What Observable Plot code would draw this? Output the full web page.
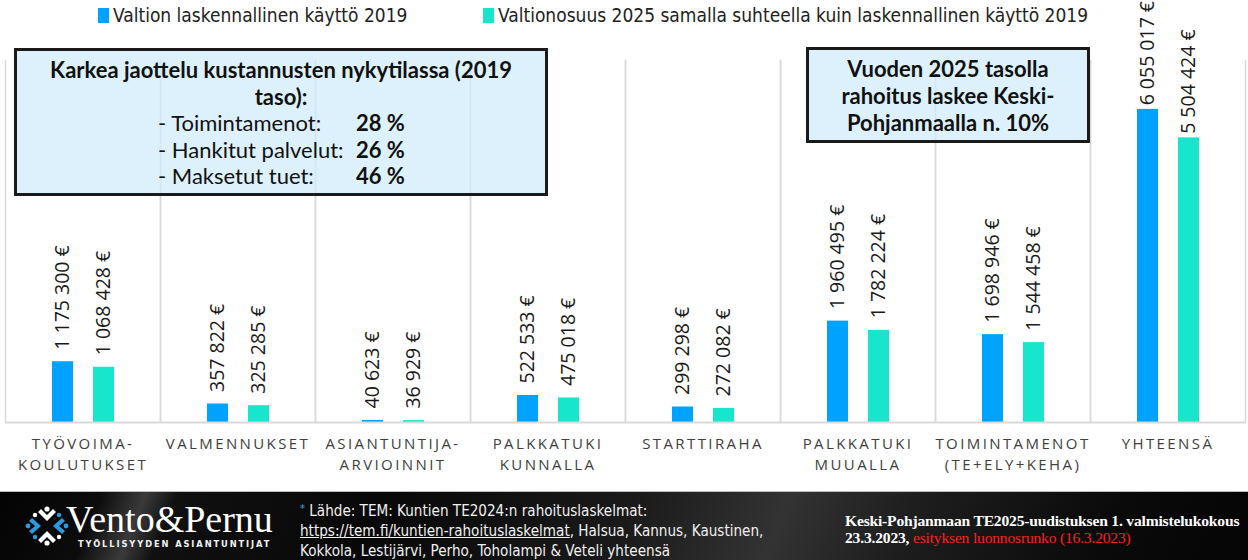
<!DOCTYPE html>
<html>
<head>
<meta charset="utf-8">
<script src="https://cdn.jsdelivr.net/npm/d3@7"></script>
<script src="https://cdn.jsdelivr.net/npm/@observablehq/plot@0.6"></script>
<style>
  html, body { margin: 0; padding: 0; background: #fff; }
  #wrap { position: relative; width: 1248px; height: 560px; overflow: hidden; background: #fff; font-family: "Open Sans", sans-serif; }
  #chart { position: absolute; left: 0; top: 0; }
  .legend { position: absolute; top: 3px; height: 24px; display: flex; align-items: center; font-family: "Liberation Sans Narrow", "DejaVu Sans Condensed", sans-serif; font-size: 19px; color: #222; white-space: nowrap; }
  .legend .sw { display: inline-block; width: 11px; height: 15px; margin-right: 4px; }
  .box { position: absolute; box-sizing: border-box; border: 3px solid #1a1a1a; background: rgba(208,236,252,0.72); font-family: Lato, sans-serif; font-size: 22px; color: #111; text-align: center; }
  .box .b { font-weight: bold; }
  .rows { display: grid; grid-template-columns: 198px auto; margin-left: 141px; text-align: left; }
  .rows .v { font-weight: bold; }
  #footer { position: absolute; left: 0; top: 491px; width: 1248px; height: 69px;
    background: linear-gradient(112deg, #030303 0%, #0c0c0c 8%, #3a3a3a 11.5%, #101010 14%, #080808 30%, #1a1a1a 50%, #333 62%, #1e1e1e 72%, #0a0a0a 88%, #050505 100%);
    border-top: 1px solid #bdbdbd; }
  .src { position: absolute; left: 300px; top: 7px; font-family: "Liberation Sans Narrow", "DejaVu Sans Condensed", sans-serif; font-size: 15.1px; line-height: 20px; color: #f0f0f0; white-space: nowrap; }
  .src .ast { color: #3aa0e0; font-size: 11px; vertical-align: 4px; }
  .src u { text-decoration: underline; }
  .meet { position: absolute; left: 845px; top: 20px; font-family: "Liberation Serif", "DejaVu Serif", serif; font-weight: bold; font-size: 15.6px; line-height: 17px; color: #fff; white-space: nowrap; letter-spacing: -0.2px; }
  .meet .red { color: #ff1f1f; font-weight: normal; }
  .logo { position: absolute; left: 66px; top: 0px; font-family: "Liberation Serif", "DejaVu Serif", serif; font-size: 38px; color: #fff; white-space: nowrap; line-height: 1; }
  .logo .word { position: absolute; left: 0; top: 8px; }
  .logo .sub { position: absolute; left: 12px; top: 48px; font-family: "DejaVu Sans", sans-serif; font-weight: bold; font-size: 8.3px; letter-spacing: 1.9px; color: #f2f2f2; }
</style>
</head>
<body>
<div id="wrap">
  <div id="chart"></div>
  <div class="legend" style="left:98px;"><span class="sw" style="background:#00a2ff"></span><span id="lg0"></span></div>
  <div class="legend" style="left:483px;"><span class="sw" style="background:#17e6cd"></span><span id="lg1"></span></div>

  <div class="box" style="left:14px; top:48px; width:534px; height:148px; padding-top:6px; line-height:26.5px;">
    <div class="b">Karkea jaottelu kustannusten nykytilassa (2019<br>taso):</div>
    <div class="rows" id="rows"></div>
  </div>

  <div class="box" style="left:806px; top:47px; width:284px; height:96px; padding-top:5px; line-height:27px;">
    <div class="b">Vuoden 2025 tasolla<br>rahoitus laskee Keski-<br>Pohjanmaalla n. 10%</div>
  </div>

  <div id="footer">
    <svg width="60" height="69" style="position:absolute;left:22px;top:0;">
      <g transform="translate(25,34)">
        <g fill="#ffffff">
          <path d="M-9,-14 L0,-5 L9,-14 L6,-17 L0,-11 L-6,-17 Z"/>
          <path d="M-9,14 L0,5 L9,14 L6,17 L0,11 L-6,17 Z"/>
          <circle cx="0" cy="-17" r="2.6"/>
          <circle cx="0" cy="17" r="2.6"/>
          <circle cx="-12" cy="-11" r="2.2"/>
          <circle cx="12" cy="11" r="2.2"/>
        </g>
        <g fill="#2b9be0">
          <path d="M-15,-8 L-6,0 L-15,8 L-18,5 L-12,0 L-18,-5 Z"/>
          <path d="M15,-8 L6,0 L15,8 L18,5 L12,0 L18,-5 Z"/>
          <circle cx="-19" cy="0" r="2.4"/>
          <circle cx="19" cy="0" r="2.4"/>
          <circle cx="12" cy="-11" r="2.2"/>
          <circle cx="-12" cy="11" r="2.2"/>
        </g>
      </g>
    </svg>
    <div class="logo"><span class="word">Vento&amp;Pernu</span><span class="sub">TYÖLLISYYDEN ASIANTUNTIJAT</span></div>
    <div class="src"><span class="ast">*</span> Lähde: TEM: Kuntien TE2024:n rahoituslaskelmat:<br><u>https://tem.fi/kuntien-rahoituslaskelmat</u>, Halsua, Kannus, Kaustinen,<br>Kokkola, Lestijärvi, Perho, Toholampi &amp; Veteli yhteensä</div>
    <div class="meet">Keski-Pohjanmaan TE2025-uudistuksen 1. valmistelukokous<br>23.3.2023, <span class="red">esityksen luonnosrunko (16.3.2023)</span></div>
  </div>
</div>
<script>
const categories = ["TYÖVOIMA-\nKOULUTUKSET", "VALMENNUKSET", "ASIANTUNTIJA-\nARVIOINNIT", "PALKKATUKI\nKUNNALLA", "STARTTIRAHA", "PALKKATUKI\nMUUALLA", "TOIMINTAMENOT\n(TE+ELY+KEHA)", "YHTEENSÄ"];
const series = ["Valtion laskennallinen käyttö 2019", "Valtionosuus 2025 samalla suhteella kuin laskennallinen käyttö 2019"];
const values2019 = [1175300, 357822, 40623, 522533, 299298, 1960495, 1698946, 6055017];
const values2025 = [1068428, 325285, 36929, 475018, 272082, 1782224, 1544458, 5504424];
const seriesColors = ["#00a2ff", "#17e6cd"];
const shareLabels = ["- Toimintamenot:", "- Hankitut palvelut:", "- Maksetut tuet:"];
const shareValues = ["28 %", "26 %", "46 %"];

document.getElementById("lg0").textContent = series[0];
document.getElementById("lg1").textContent = series[1];
const rows = document.getElementById("rows");
shareLabels.forEach((l, i) => {
  const a = document.createElement("div"); a.textContent = l; rows.appendChild(a);
  const b = document.createElement("div"); b.className = "v"; b.textContent = shareValues[i]; rows.appendChild(b);
});

const data = [];
categories.forEach((c, i) => {
  data.push({category: c, series: series[0], value: values2019[i]});
  data.push({category: c, series: series[1], value: values2025[i]});
});
const fmt = d3.formatLocale({decimal: ",", thousands: " ", grouping: [3], currency: ["", " €"]}).format(",d");
const lastCat = categories[categories.length - 1];
const labelOpts = {fx: "category", x: "series", y: "value", text: d => fmt(d.value) + " €",
  rotate: -90, textAnchor: "start", lineAnchor: "middle", fontSize: 19.5,
  fontFamily: "Open Sans, sans-serif", fill: "#1a1a1a", clip: false};

const chart = Plot.plot({
  width: 1248,
  height: 490,
  marginTop: 60,
  marginBottom: 68,
  marginLeft: 5,
  marginRight: 3,
  style: {background: "transparent", overflow: "visible"},
  fx: {domain: categories, padding: 0, axis: null},
  x: {domain: series, paddingInner: 0.49, paddingOuter: 1.13, axis: null},
  y: {domain: [0, 7000000], axis: null},
  color: {domain: series, range: seriesColors},
  marks: [
    Plot.frame({anchor: "left", stroke: "#d9d9d9", strokeWidth: 1.5}),
    Plot.frame({anchor: "right", stroke: "#d9d9d9", strokeWidth: 1.5}),
    Plot.barY(data, {fx: "category", x: "series", y: "value", fill: "series"}),
    Plot.ruleY([0], {stroke: "#d9d9d9", strokeWidth: 2}),
    Plot.text(data.filter(d => d.category !== lastCat), {...labelOpts, dy: -12}),
    Plot.text(data.filter(d => d.category === lastCat), {...labelOpts, dy: -4}),
    Plot.text(categories, {fx: d => d, text: d => d, frameAnchor: "bottom", lineAnchor: "top", dy: 12,
      lineHeight: 1.4, fontSize: 15, fontFamily: "Open Sans, sans-serif", fill: "#404040"})
  ]
});
const catSet = new Set(categories.map(c => c.replace("\n", "")));
d3.select(chart).selectAll("text")
  .filter(function() { return catSet.has(this.textContent); })
  .attr("letter-spacing", "2.4px")
  .style("letter-spacing", "2.4px");
document.getElementById("chart").appendChild(chart);
</script>
</body>
</html>
